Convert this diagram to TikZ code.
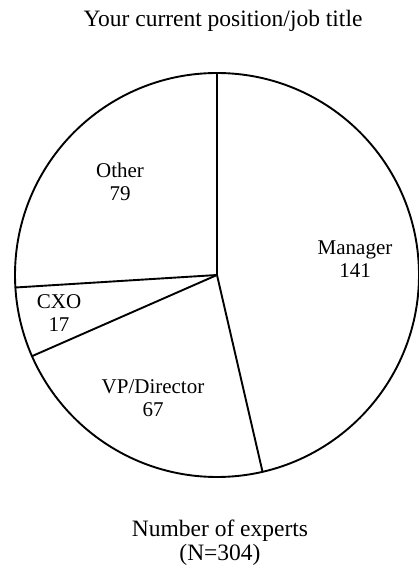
\documentclass[tikz,border=0pt]{standalone}
\usepackage{fontspec}
\setmainfont{Liberation Serif}
\begin{document}
\begin{tikzpicture}[x=1pt,y=1pt,line width=1.9pt,
	lbl/.style={align=center,font=\fontsize{21}{23}\selectfont},
	big/.style={align=center,font=\fontsize{23.5}{24}\selectfont}]
	\useasboundingbox (0,0) rectangle (419,568);
	\coordinate (c) at (217,293);
	% slices: Manager 141, VP/Director 67, CXO 17, Other 79
	\draw (c) circle[radius=202];
	\foreach \a/\n in {90/top,-76.97/mgr,-156.31/vp,-176.45/cxo}
		\draw (c) -- ++(\a:202) coordinate (\n);
	\node[big,anchor=base] (title) at (223,541) {Your current position/job title};
	\node[lbl] (other) at (120,386) {Other\\79};
	\node[lbl] (manager) at (355,309) {Manager\\141};
	\node[lbl] (cxo) at (59,255) {CXO\\17};
	\node[lbl] (vp) at (153,170) {VP/Director\\67};
	\node[big] (total) at (220,25) {Number of experts\\(N=304)};
\end{tikzpicture}
\end{document}
